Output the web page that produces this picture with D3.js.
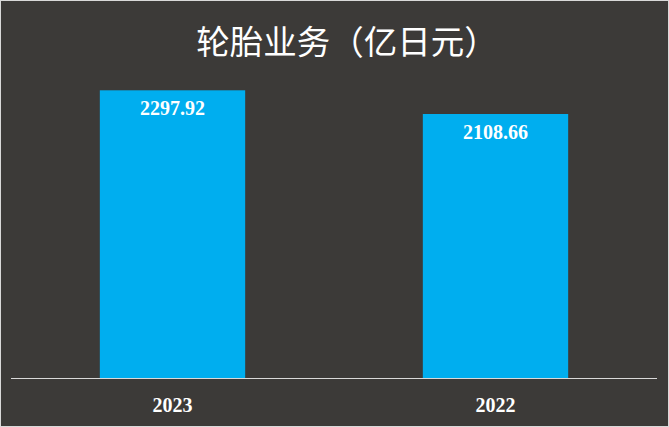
<!DOCTYPE html>
<html><head><meta charset="utf-8">
<script src="https://cdn.jsdelivr.net/npm/d3@7"></script>
<style>
html,body{margin:0;padding:0;background:#fff;}
svg{display:block;}
</style></head>
<body>
<script>
const categories = ["2023", "2022"];
const values = [2297.92, 2108.66];
const valueLabels = ["2297.92", "2108.66"];
const title = "轮胎业务（亿日元）";

const W = 669, H = 427;
const svg = d3.select("body").append("svg").attr("width", W).attr("height", H);
svg.append("rect").attr("x", 0.5).attr("y", 0.5).attr("width", W - 1).attr("height", H - 1)
  .attr("fill", "#3c3a38").attr("stroke", "#d9d9d9").attr("stroke-width", 1);

const x = d3.scaleBand().domain(categories).range([11, 657]).paddingInner(0.55).paddingOuter(0.275);
const y = d3.scaleLinear().domain([0, 2500]).range([378, 65]);

svg.append("text").attr("x", 347).attr("y", 54).attr("text-anchor", "middle")
  .attr("fill", "#ffffff").attr("font-family", "'Noto Sans CJK SC', sans-serif")
  .attr("font-size", 33.5).text(title);

svg.selectAll("rect.bar").data(values).enter().append("rect").attr("class", "bar")
  .attr("x", (d, i) => x(categories[i])).attr("width", x.bandwidth())
  .attr("y", d => y(d)).attr("height", d => y(0) - y(d)).attr("fill", "#00aeef");

svg.selectAll("text.val").data(values).enter().append("text").attr("class", "val")
  .attr("x", (d, i) => x(categories[i]) + x.bandwidth() / 2).attr("y", d => y(d) + 25)
  .attr("text-anchor", "middle").attr("fill", "#ffffff")
  .attr("font-family", "'Liberation Serif', 'Times New Roman', serif").attr("font-weight", "bold")
  .attr("font-size", 20).text((d, i) => valueLabels[i]);

const axis = svg.append("g").attr("transform", "translate(0,378.5)")
  .call(d3.axisBottom(x).tickSize(0).tickPadding(19));
axis.select(".domain").attr("stroke", "#d9d9d9").attr("d", "M11,0H657");
axis.selectAll("text").attr("fill", "#ffffff")
  .attr("font-family", "'Liberation Serif', 'Times New Roman', serif").attr("font-weight", "bold")
  .attr("font-size", 20);
</script>
</body></html>
